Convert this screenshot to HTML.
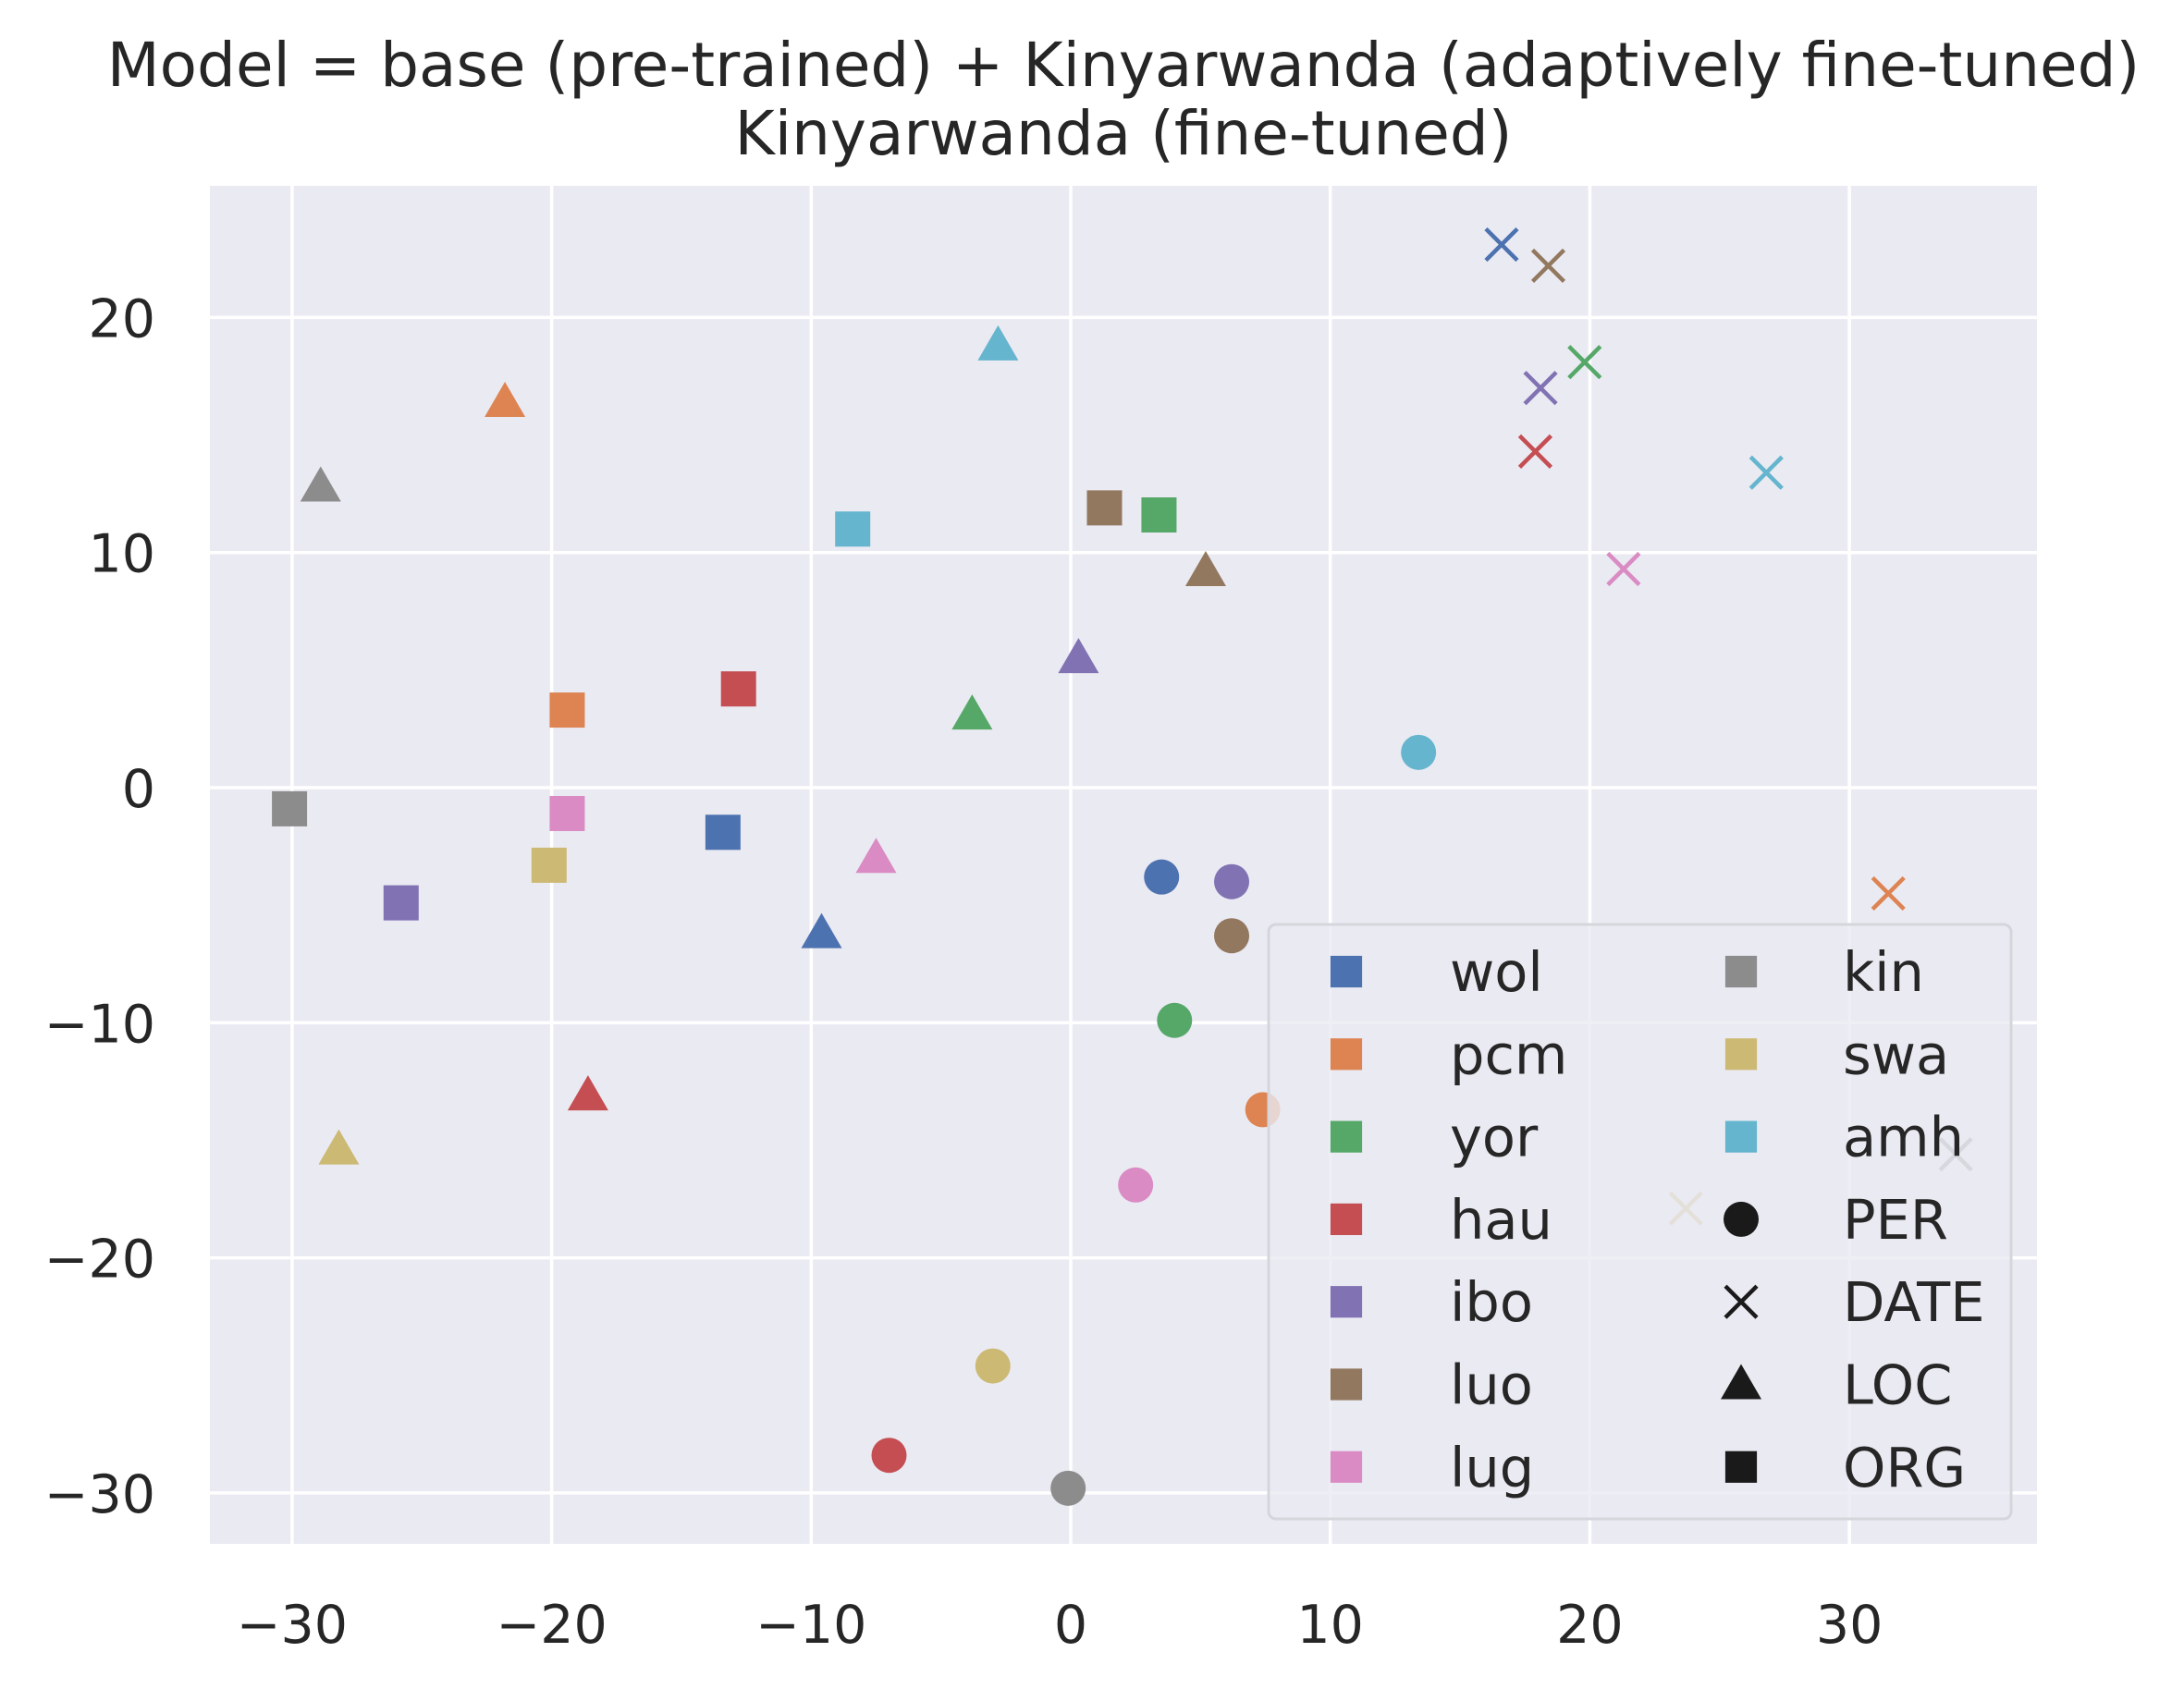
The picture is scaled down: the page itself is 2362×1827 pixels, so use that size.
<!DOCTYPE html>
<html><head><meta charset="utf-8"><style>
html,body{margin:0;padding:0;background:#fff;}
svg{display:block;font-family:"DejaVu Sans","Liberation Sans",sans-serif;}
</style></head><body>
<svg id="chart" width="2362" height="1827" viewBox="0 0 2362 1827" xmlns="http://www.w3.org/2000/svg">
<text x="1215" y="93" font-size="66" fill="#262626" text-anchor="middle">Model = base (pre-trained) + Kinyarwanda (adaptively fine-tuned)</text>
<text x="1215" y="167" font-size="66" fill="#262626" text-anchor="middle">Kinyarwanda (fine-tuned)</text>
<rect x="227" y="201" width="1976" height="1469" fill="#eaeaf2"/>
<g id="grid"></g><g id="ticks"></g><g id="marks"></g><g id="legend"></g>
</svg>
<script>
const languages = ["wol","pcm","yor","hau","ibo","luo","lug","kin","swa","amh"];
const colors = ["#4c72b0","#dd8452","#55a868","#c44e52","#8172b3","#937860","#da8bc3","#8c8c8c","#ccb974","#64b5cd"];
const entityTypes = ["PER","DATE","LOC","ORG"];
const orgX = [-13.4,-19.4,3.4,-12.8,-25.8,1.3,-19.4,-30.1,-20.1,-8.4];
const orgY = [-1.9,3.3,11.6,4.2,-4.9,11.9,-1.1,-0.9,-3.3,11.0];
const locX = [-9.6,-21.8,-3.8,-18.6,0.3,5.2,-7.5,-28.9,-28.2,-2.8];
const locY = [-6.2,16.4,3.1,-13.1,5.5,9.2,-3.0,12.8,-15.4,18.8];
const perX = [3.5,7.4,4.0,-7.0,6.2,6.2,2.5,-0.1,-3.0,13.4];
const perY = [-3.8,-13.7,-9.9,-28.4,-4.0,-6.3,-16.9,-29.8,-24.6,1.5];
const dateX = [16.6,31.5,19.8,17.9,18.1,18.4,21.3,34.1,23.7,26.8];
const dateY = [23.1,-4.5,18.1,14.3,17.0,22.2,9.3,-15.6,-17.9,13.4];
const xTicks = [-30,-20,-10,0,10,20,30];
const yTicks = [-30,-20,-10,0,10,20];
const xTickLabels = ["\u221230","\u221220","\u221210","0","10","20","30"];
const yTickLabels = ["\u221230","\u221220","\u221210","0","10","20"];

const NS="http://www.w3.org/2000/svg";
const X0=227,X1=2203,Y0=201,Y1=1670;
function sx(v){return 1158+v*28.07;}
function sy(v){return 852-v*25.43;}
function mk(tag,attrs,parent){const e=document.createElementNS(NS,tag);for(const k in attrs)e.setAttribute(k,attrs[k]);parent.appendChild(e);return e;}
const grid=document.getElementById('grid'),ticks=document.getElementById('ticks'),marks=document.getElementById('marks'),legend=document.getElementById('legend');
xTicks.forEach((t,i)=>{
  const l=mk('line',{x1:sx(t),x2:sx(t),y1:Y0,y2:Y1,stroke:'#fff','stroke-width':3.5},grid);
  
  
  const tx=mk('text',{x:sx(t),y:1777,'font-size':57,fill:'#262626','text-anchor':'middle'},ticks);
  tx.textContent=xTickLabels[i];
  
  
});
yTicks.forEach((t,i)=>{
  const l=mk('line',{x1:X0,x2:X1,y1:sy(t),y2:sy(t),stroke:'#fff','stroke-width':3.5},grid);
  
  
  const tx=mk('text',{x:168,y:sy(t)+21,'font-size':57,fill:'#262626','text-anchor':'end'},ticks);
  tx.textContent=yTickLabels[i];
  
  
});
function marker(shape,cx,cy,color,parent,s){
  s=s||1;let e;
  if(shape==='ORG'){e=mk('rect',{x:cx-19*s,y:cy-19*s,width:38*s,height:38*s,fill:color},parent);}
  else if(shape==='PER'){e=mk('circle',{cx:cx,cy:cy,r:19*s,fill:color},parent);}
  else if(shape==='LOC'){e=mk('polygon',{points:`${cx},${cy-22*s} ${cx+22*s},${cy+16*s} ${cx-22*s},${cy+16*s}`,fill:color},parent);}
  else {const d=17*s;e=mk('path',{d:`M${cx-d},${cy-d}L${cx+d},${cy+d}M${cx-d},${cy+d}L${cx+d},${cy-d}`,stroke:color,'stroke-width':4.5,fill:'none'},parent);}
  return e;
}
const series=[["ORG",orgX,orgY],["LOC",locX,locY],["PER",perX,perY],["DATE",dateX,dateY]];
series.forEach(([shape,xs,ys])=>{
  xs.forEach((v,i)=>{
    const e=marker(shape,sx(v),sy(ys[i]),colors[i],marks);
    
    
  });
});
const box=mk('rect',{x:1372,y:1000,width:803,height:643,rx:8,fill:'#eaeaf2','fill-opacity':0.8,stroke:'#d5d5dc','stroke-width':3},legend);


const entries=[];
languages.forEach((l,i)=>entries.push([l,'ORG',colors[i]]));
entityTypes.forEach(t=>entries.push([t,t,'#1a1a1a']));
entries.forEach((en,i)=>{
  const col=i<7?0:1,row=i%7;
  const mx=col?1883:1456,tx=col?1993:1568,y=1051+row*89.3;
  const g=mk('g',{},legend);
  
  
  marker(en[1],mx,y,en[2],g,en[1]==='ORG'?0.9:1);
  const t=mk('text',{x:tx,y:y+21,'font-size':59,fill:'#262626'},g);
  t.textContent=en[0];
});
</script>
</body></html>
